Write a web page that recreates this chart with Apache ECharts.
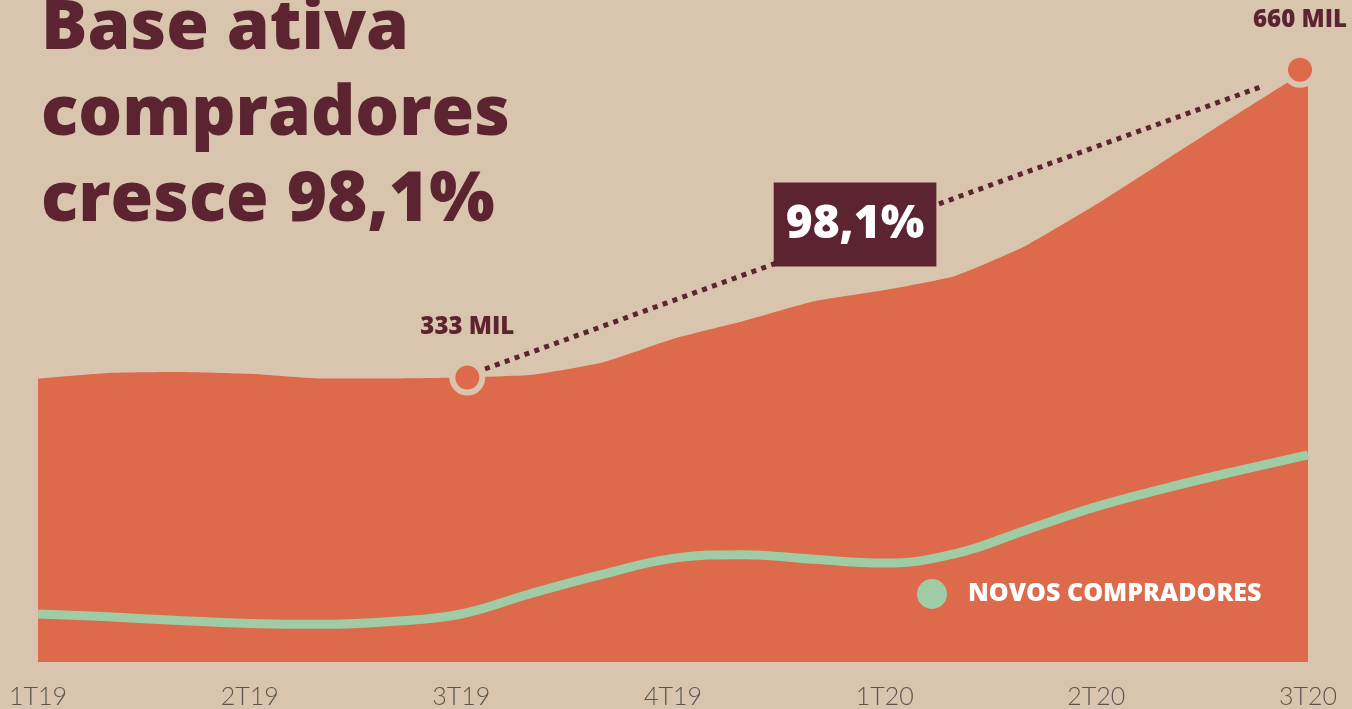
<!DOCTYPE html>
<html>
<head>
<meta charset="utf-8">
<script src="https://cdn.jsdelivr.net/npm/echarts@6/dist/echarts.min.js"></script>
<style>
html,body{margin:0;padding:0;background:#d9c5ad;}
#chart{width:1352px;height:709px;}
</style>
</head>
<body>
<div id="chart"></div>
<script>
// ---- data ----
const quarters = ['1T19','2T19','3T19','4T19','1T20','2T20','3T20'];
// monthly points (3 per quarter), index 0 = 1T19 ... 18 = 3T20
const baseAtiva = [332,338,339,337,332,332,333,336,349,374,393,414,426,441,473,517,565,613,660];
const novosCompradores = [82,79,75,72,71,74,82,104,124,141,145,140,136,146,171,196,216,234,251];
const highlightIdx = [6, 18];
const highlightLabels = ['333 MIL', '660 MIL'];
const growthLabel = '98,1%';
const titleLines = ['Base ativa', 'compradores', 'cresce 98,1%'];
const legendName = 'NOVOS COMPRADORES';

// ---- styles ----
const BG = '#d9c5ad', ORANGE = '#dd6a4a', GREEN = '#a0cca5', MAROON = '#5c2430';
const FONT = 'Open Sans';
const AXFONT = 'Lato';

const monthIdx = baseAtiva.map((_, i) => i);
const areaData = monthIdx.map(i => [i, baseAtiva[i]]);
const greenData = monthIdx.map(i => [i, novosCompradores[i]]);
const hp = highlightIdx.map(i => [i, baseAtiva[i]]);
function along(t) {
  return [hp[0][0] + t * (hp[1][0] - hp[0][0]), hp[0][1] + t * (hp[1][1] - hp[0][1])];
}
const dotted = [along(0.028), along(0.946)];
const boxPoint = along(0.465);
const markerOffsets = [[6, 0], [-8, 0]];

const chart = echarts.init(document.getElementById('chart'), null, {renderer: 'canvas'});
chart.setOption({
  backgroundColor: BG,
  animation: false,
  title: {
    text: titleLines.join('\n'),
    left: 36, top: -19,
    textStyle: {fontFamily: FONT, fontWeight: 800, fontSize: 69, lineHeight: 86, color: MAROON}
  },
  legend: {
    data: [{name: legendName, icon: 'circle'}],
    left: 912, top: 574,
    itemWidth: 30, itemHeight: 30, itemGap: 10,
    textStyle: {fontFamily: FONT, fontWeight: 800, fontSize: 25, color: '#ffffff', padding: [0,0,0,16]}
  },
  grid: {left: 38, right: 44, top: 32, bottom: 47},
  xAxis: {
    type: 'value', min: 0, max: 18, interval: 3,
    axisLine: {show: false}, axisTick: {show: false}, splitLine: {show: false},
    axisLabel: {
      showMinLabel: true, showMaxLabel: true,
      formatter: v => quarters[v / 3],
      margin: 22, fontFamily: AXFONT, fontWeight: 300, fontSize: 25, color: '#5a5552'
    }
  },
  yAxis: {type: 'value', min: 31, max: 700, show: false},
  series: [
    {
      type: 'line', data: areaData, smooth: 0.15, symbol: 'none', z: 1,
      lineStyle: {width: 0, color: ORANGE},
      areaStyle: {color: ORANGE, opacity: 1},
      silent: true
    },
    {
      name: legendName, type: 'line', data: greenData, smooth: 0.4, symbol: 'none', z: 2,
      itemStyle: {color: GREEN},
      lineStyle: {width: 9, color: GREEN}
    },
    {
      type: 'line', data: dotted, symbol: 'none', z: 3,
      lineStyle: {width: 5, color: MAROON, type: [5, 5.5], cap: 'butt'}
    },
    {
      type: 'scatter', data: [boxPoint], symbolSize: 0, z: 4,
      itemStyle: {opacity: 1},
      label: {
        show: true, position: 'inside', offset: [0, -10],
        formatter: growthLabel,
        backgroundColor: MAROON, padding: [18, 12, 18, 12],
        fontFamily: FONT, fontWeight: 800, fontSize: 46, lineHeight: 48, color: '#ffffff'
      }
    },
    {
      type: 'scatter', z: 5,
      data: hp.map((p, k) => ({value: p, symbolOffset: markerOffsets[k]})),
      symbolSize: 30,
      itemStyle: {color: ORANGE, borderColor: BG, borderWidth: 6, opacity: 1},
      label: {
        show: true, position: 'top', distance: 20,
        formatter: p => highlightLabels[p.dataIndex],
        fontFamily: FONT, fontWeight: 800, fontSize: 24, color: MAROON
      }
    }
  ]
});
</script>
</body>
</html>
